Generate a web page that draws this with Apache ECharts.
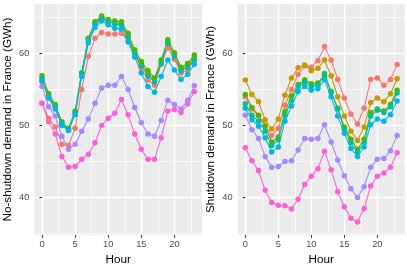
<!DOCTYPE html>
<html><head><meta charset="utf-8">
<script src="https://cdn.jsdelivr.net/npm/echarts@6/dist/echarts.min.js"></script>
<style>html,body{margin:0;padding:0;background:#fff}#c{width:407px;height:271px}</style>
</head><body><div id="c"></div>
<script>
// Hours (x)
const hours = [0,1,2,3,4,5,6,7,8,9,10,11,12,13,14,15,16,17,18,19,20,21,22,23];
const groupNames = ['g1','g2','g3','g4','g5','g6','g7'];
const groupColors = ['#F8766D','#C49A00','#53B400','#00C094','#00B6EB','#A58AFF','#FB61D7'];
const xTicks = [0,5,10,15,20];
const xMinor = [2.5,7.5,12.5,17.5,22.5];
const yTicks = [40,50,60];
const yMinor = [35,45,55,65];

// No-shutdown demand (left panel)
const ns_g1 = [53.1,51.0,49.8,47.4,47.2,49.6,55.0,59.6,62.1,62.9,62.7,62.7,62.8,61.9,60.0,57.9,56.3,55.6,58.5,60.8,59.2,57.3,57.7,59.2];
const ns_g2 = [56.1,54.2,52.7,50.3,49.5,51.7,57.2,62.0,64.2,65.0,64.5,64.2,64.1,62.5,60.2,58.5,57.2,56.3,58.8,61.6,59.8,57.8,58.3,59.4];
const ns_g3 = [56.9,54.4,52.9,50.5,49.6,52.0,57.3,62.1,64.4,65.2,64.7,64.5,64.4,62.8,60.5,58.9,57.6,56.6,59.1,61.9,60.1,58.1,58.6,59.8];
const ns_g4 = [56.5,54.0,52.6,50.3,49.4,51.8,57.3,61.9,64.1,64.8,64.4,64.1,63.9,62.3,60.0,58.3,56.9,56.1,58.6,61.4,59.6,57.6,58.1,59.1];
const ns_g5 = [56.2,53.8,52.3,50.0,49.3,51.5,56.8,61.5,63.6,64.5,64.0,63.5,63.4,61.6,59.5,57.3,55.4,54.6,56.8,59.1,57.7,56.4,57.1,58.5];
const ns_g6 = [55.4,52.6,51.3,48.5,46.7,47.4,49.2,50.9,53.1,55.2,55.6,55.6,56.8,55.0,52.5,50.4,48.8,48.5,50.7,53.5,52.9,52.3,53.5,55.5];
const ns_g7 = [53.1,50.5,48.8,45.7,44.2,44.3,45.3,46.0,47.6,50.0,51.0,51.7,53.6,51.5,48.8,46.7,45.3,45.3,48.3,52.0,52.2,51.8,53.0,54.7];

// Shutdown demand (right panel)
const sd_g1 = [54.0,52.3,51.3,50.0,48.6,49.6,52.8,55.0,57.1,58.3,58.1,59.0,60.95,59.1,56.4,53.8,51.6,50.2,52.4,56.4,56.6,55.6,56.4,58.45];
const sd_g2 = [56.3,54.3,53.3,50.8,49.5,50.9,54.2,56.6,58.0,58.4,57.6,57.95,59.1,56.9,54.0,51.3,49.2,47.9,49.8,53.2,53.8,53.3,54.4,56.5];
const sd_g3 = [54.3,52.5,51.4,49.9,47.7,48.4,51.9,54.1,55.7,56.35,55.8,55.9,56.9,54.6,52.4,49.8,48.1,46.7,48.1,51.8,52.3,52.0,52.9,54.9];
const sd_g4 = [53.0,51.4,50.6,49.2,47.2,48.0,51.4,53.5,55.4,56.0,55.4,55.6,57.2,54.7,52.3,49.5,47.6,46.3,47.6,51.3,52.1,51.8,52.6,54.5];
const sd_g5 = [52.4,50.8,49.9,48.3,46.3,47.0,50.6,52.7,54.7,55.4,54.9,55.1,56.35,54.0,51.3,48.9,46.8,45.7,47.0,50.1,50.9,50.6,51.5,53.4];
const sd_g6 = [51.4,49.4,48.2,45.7,44.2,44.3,45.0,45.1,46.6,48.2,48.1,48.2,50.1,47.7,45.2,43.0,41.2,40.0,41.5,44.2,45.3,45.4,46.5,48.6];
const sd_g7 = [46.9,45.1,43.75,41.0,39.3,38.9,38.85,38.4,39.75,41.8,42.95,44.0,46.4,43.85,40.8,38.7,37.1,36.6,38.45,41.6,42.95,43.4,44.2,46.2];

const leftData = [ns_g1,ns_g2,ns_g3,ns_g4,ns_g5,ns_g6,ns_g7];
const rightData = [sd_g1,sd_g2,sd_g3,sd_g4,sd_g5,sd_g6,sd_g7];

const FONT = 'Liberation Sans, Arial, sans-serif';
const X_MIN = -1.15, X_MAX = 24.15;
const Y_MIN = 34.77, Y_MAX = 66.87;

function xAxes(gridIndex) {
  return [
    { type:'value', gridIndex, min:X_MIN, max:X_MAX, position:'bottom',
      name:'Hour', nameLocation:'middle', nameGap:18,
      nameTextStyle:{color:'#000', fontSize:11.7, fontFamily:FONT},
      axisLine:{show:false},
      axisTick:{show:true, length:2.75, customValues:xTicks, lineStyle:{color:'#333333', width:1}},
      axisLabel:{customValues:xTicks, color:'#4D4D4D', fontSize:9.3, fontFamily:FONT, margin:5},
      splitLine:{show:true, lineStyle:{color:'#FFFFFF', width:1.4}} },
    { type:'value', gridIndex, min:X_MIN, max:X_MAX, position:'top',
      axisLine:{show:false},
      axisTick:{show:false, customValues:xMinor},
      axisLabel:{show:false, customValues:xMinor},
      splitLine:{show:true, lineStyle:{color:'#FFFFFF', width:0.7}} }
  ];
}
function yAxes(gridIndex, name) {
  return [
    { type:'value', gridIndex, min:Y_MIN, max:Y_MAX, position:'left',
      name, nameLocation:'middle', nameGap:21,
      nameTextStyle:{color:'#000', fontSize:11.7, fontFamily:FONT},
      axisLine:{show:false},
      axisTick:{show:true, length:2.75, customValues:yTicks, lineStyle:{color:'#333333', width:1}},
      axisLabel:{customValues:yTicks, color:'#4D4D4D', fontSize:9.3, fontFamily:FONT, margin:5},
      splitLine:{show:true, lineStyle:{color:'#FFFFFF', width:1.4}} },
    { type:'value', gridIndex, min:Y_MIN, max:Y_MAX, position:'right',
      axisLine:{show:false},
      axisTick:{show:false, customValues:yMinor},
      axisLabel:{show:false, customValues:yMinor},
      splitLine:{show:true, lineStyle:{color:'#FFFFFF', width:0.7}} }
  ];
}

const series = [];
function addSeries(dataSets, xIdx, yIdx) {
  dataSets.forEach((arr, i) => {
    series.push({
      type:'line', name:groupNames[i], xAxisIndex:xIdx, yAxisIndex:yIdx,
      data: hours.map((h, k) => [h, arr[k]]),
      symbol:'circle', symbolSize:5.5, showSymbol:true,
      lineStyle:{color:groupColors[i], width:1.1},
      itemStyle:{color:groupColors[i]},
      emphasis:{disabled:true}, silent:true
    });
  });
}
addSeries(leftData, 0, 0);
addSeries(rightData, 2, 2);

const chart = echarts.init(document.getElementById('c'), null, {renderer:'canvas'});
chart.setOption({
  animation:false,
  backgroundColor:'#FFFFFF',
  grid:[
    {left:34.4, top:4, width:167.5, height:235, show:true, backgroundColor:'#EBEBEB', borderWidth:0, containLabel:false},
    {left:237.7, top:4, width:167, height:235, show:true, backgroundColor:'#EBEBEB', borderWidth:0, containLabel:false}
  ],
  xAxis:[...xAxes(0), ...xAxes(1)],
  yAxis:[...yAxes(0,'No-shutdown demand in France (GWh)'), ...yAxes(1,'Shutdown demand in France (GWh)')],
  series
});
</script>
</body></html>
